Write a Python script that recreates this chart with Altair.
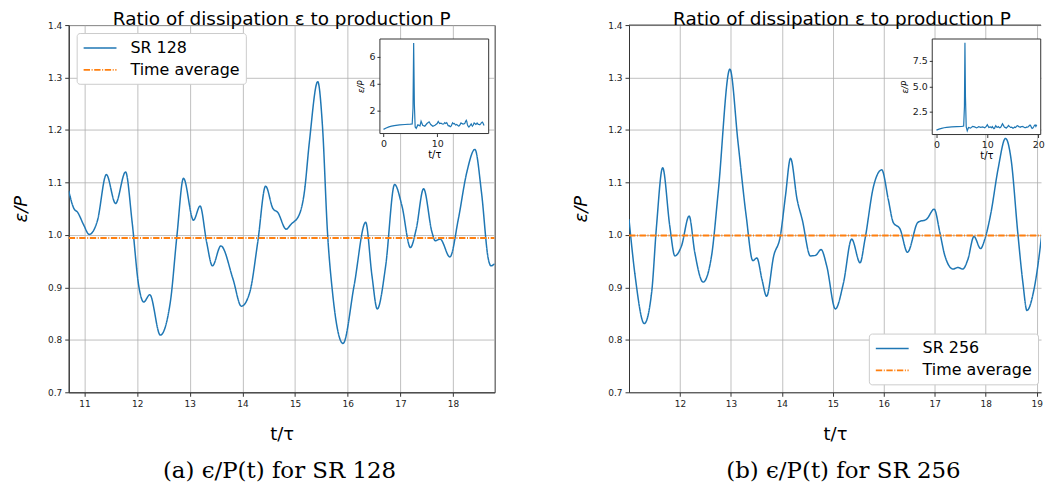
import altair as alt
import pandas as pd

# ---------------- data ----------------
t128 = [10.70, 10.80, 10.87, 10.98, 11.09, 11.245, 11.415, 11.59, 11.78, 11.905,
        12.03, 12.125, 12.24, 12.44, 12.63, 12.755, 12.88, 13.07, 13.195, 13.32,
        13.43, 13.59, 13.82, 13.98, 14.14, 14.29, 14.44, 14.58, 14.67, 14.83,
        14.92, 15.08, 15.175, 15.27, 15.43, 15.52, 15.615, 15.71, 15.91, 16.12,
        16.34, 16.46, 16.56, 16.72, 16.89, 17.03, 17.19, 17.30, 17.44, 17.60,
        17.66, 17.755, 17.94, 18.10, 18.26, 18.415, 18.54, 18.67, 18.72, 18.79]
v128 = [1.084, 1.050, 1.043, 1.020, 1.001, 1.027, 1.115, 1.060, 1.120, 1.024,
        0.903, 0.872, 0.886, 0.809, 0.872, 0.998, 1.108, 1.028, 1.055, 0.986,
        0.941, 0.979, 0.916, 0.864, 0.891, 0.986, 1.093, 1.050, 1.043, 1.011,
        1.020, 1.039, 1.081, 1.176, 1.292, 1.207, 1.005, 0.891, 0.793, 0.903,
        1.024, 0.922, 0.859, 0.941, 1.096, 1.055, 0.976, 1.011, 1.088, 1.005,
        0.989, 0.992, 0.958, 1.030, 1.119, 1.163, 1.081, 0.954, 0.941, 0.945]

t256 = [11.00, 11.12, 11.30, 11.445, 11.54, 11.66, 11.80, 11.90, 12.03, 12.18,
        12.29, 12.455, 12.62, 12.75, 12.98, 13.14, 13.30, 13.43, 13.51, 13.61,
        13.70, 13.84, 13.97, 14.07, 14.17, 14.30, 14.40, 14.56, 14.66, 14.77,
        14.88, 15.05, 15.21, 15.37, 15.535, 15.63, 15.80, 15.96, 16.09, 16.185,
        16.32, 16.465, 16.67, 16.84, 16.99, 17.10, 17.20, 17.36, 17.455, 17.55,
        17.65, 17.77, 17.90, 17.98, 18.105, 18.24, 18.39, 18.50, 18.63, 18.73,
        18.81, 18.95, 19.12, 19.27]
v256 = [1.030, 0.922, 0.831, 0.891, 1.017, 1.128, 1.017, 0.960, 0.979, 1.036,
        0.967, 0.910, 0.960, 1.081, 1.316, 1.176, 1.036, 0.951, 0.956, 0.915,
        0.883, 0.960, 0.998, 1.074, 1.146, 1.067, 1.029, 0.960, 0.961, 0.972,
        0.941, 0.859, 0.909, 0.992, 0.947, 0.991, 1.093, 1.124, 1.067, 1.024,
        1.011, 0.967, 1.024, 1.030, 1.049, 1.005, 0.960, 0.935, 0.938, 0.935,
        0.953, 0.997, 0.974, 0.991, 1.043, 1.124, 1.184, 1.143, 1.004, 0.909,
        0.856, 0.897, 1.017, 1.160]

# early part of the run (inset only)
pre128_t = [0, 0.5, 1.0, 1.5, 2.0, 3.0, 4.0, 5.0, 5.35, 5.5, 5.62, 5.75, 5.9,
            6.1, 6.4, 6.8, 7.0, 7.3, 7.7, 8.1, 8.5, 8.8, 9.2, 9.6, 10.0, 10.2, 10.45]
pre128_v = [0.62, 0.72, 0.80, 0.86, 0.90, 0.95, 0.98, 1.0, 1.02, 2.2, 7.0, 2.5, 0.8,
            0.70, 0.95, 0.88, 1.22, 0.92, 0.85, 1.05, 1.18, 0.98, 0.85, 0.92, 1.05, 1.20, 1.05]
pre256_t = [0, 0.5, 1.0, 1.5, 2.0, 3.0, 4.0, 5.0, 5.35, 5.5, 5.6, 5.7, 5.85, 6.05,
            6.3, 6.7, 7.1, 7.5, 7.9, 8.3, 8.7, 9.1, 9.5, 9.8, 10.0, 10.3, 10.6, 10.85]
pre256_v = [0.68, 0.78, 0.86, 0.92, 0.96, 1.0, 1.03, 1.05, 1.08, 3.0, 9.3, 4.0, 1.0, 0.62,
            0.95, 0.88, 1.05, 1.0, 0.9, 1.02, 0.95, 1.0, 0.92, 1.05, 1.22, 0.95, 1.0, 0.93]
post256_t = [19.4, 19.55, 19.72]
post256_v = [1.20, 1.05, 1.22]

avg128 = 0.994
avg256 = 0.999

yticks = [0.7, 0.8, 0.9, 1.0, 1.1, 1.2, 1.3, 1.4]
xticks128 = [11, 12, 13, 14, 15, 16, 17, 18]
xticks256 = [12, 13, 14, 15, 16, 17, 18, 19]

BLUE = "#1f77b4"
ORANGE = "#ff7f0e"
H = 369


def panel(t, v, avg, name, xdom, width, xticks, it, iv, ixdom, iydom, ixr, iyr,
          iyticks, iyfmt, ixticks, lx, ly, caption, cap_dx, title_dx, left_panel):
    main_df = pd.DataFrame({"t": t, "v": v, "series": name})
    avg_df = pd.DataFrame({"t": xdom, "v": [avg, avg], "series": ["Time average"] * 2})
    leg = alt.Legend(title=None, orient="none", legendX=lx, legendY=ly,
                     symbolType="M-1,0H3.125", symbolSize=256, symbolStrokeWidth=1.6,
                     labelFontSize=16, labelFont="DejaVu Sans", labelColor="#000",
                     fillColor="white", strokeColor="#cccccc", padding=6,
                     cornerRadius=3, rowPadding=5, labelOffset=30)
    color = alt.Color("series:N", scale=alt.Scale(domain=[name, "Time average"],
                                                 range=[BLUE, ORANGE]), legend=leg)
    dash = alt.StrokeDash("series:N", scale=alt.Scale(domain=[name, "Time average"],
                                                      range=[[1, 0], [6.4, 1.6, 1, 1.6]]),
                          legend=leg)
    x = alt.X("t:Q", scale=alt.Scale(domain=xdom, nice=False, zero=False),
              axis=alt.Axis(values=xticks, format="d", title="t/τ", titleFontSize=18,
                            titlePadding=17))
    y = alt.Y("v:Q", scale=alt.Scale(domain=[0.7, 1.4], nice=False, zero=False),
              axis=alt.Axis(values=yticks, format=".1f", title="ε/P", titleFontSize=18,
                            titleFontStyle="italic", titlePadding=17))
    layers = [
        alt.Chart(main_df).mark_line(interpolate="monotone", strokeWidth=1.5, clip=True)
        .encode(x=x, y=y, color=color, strokeDash=dash),
        alt.Chart(avg_df).mark_line(strokeWidth=2, clip=True)
        .encode(x=x, y=y, color=color, strokeDash=dash),
    ]
    if not left_panel:
        top_df = pd.DataFrame({"t": [xdom[0]], "t2": [xdom[1]], "v": [1.4]})
        layers.append(alt.Chart(top_df).mark_rule(color="#333", strokeWidth=1)
                      .encode(x=x, x2="t2:Q", y=y))
    main = alt.layer(*layers)

    ix = alt.Scale(domain=ixdom, range=ixr, nice=False, zero=False)
    iy = alt.Scale(domain=iydom, range=iyr, nice=False, zero=False)
    ixaxis = alt.Axis(orient="bottom", offset=-(H - iyr[0]), values=ixticks, format="d",
                      grid=False, domain=False, tickSize=3, labelFontSize=9.5,
                      labelPadding=2, title="t/τ", titleFontSize=10, titlePadding=2,
                      zindex=2)
    iyaxis = alt.Axis(orient="left", offset=-ixr[0], values=iyticks, format=iyfmt,
                      grid=False, domain=False, tickSize=3, labelFontSize=9.5,
                      labelPadding=2, title="ε/P", titleFontSize=8.5,
                      titleFontStyle="italic", titlePadding=3, zindex=2)
    box_df = pd.DataFrame({"x0": [ixdom[0]], "x1": [ixdom[1]],
                           "y0": [iydom[0]], "y1": [iydom[1]]})
    inset_df = pd.DataFrame({"t": it, "v": iv})
    inset = alt.layer(
        alt.Chart(box_df).mark_rect(fill="white", stroke="#333", strokeWidth=1)
        .encode(x=alt.X("x0:Q", scale=ix, axis=ixaxis), x2="x1:Q",
                y=alt.Y("y0:Q", scale=iy, axis=iyaxis), y2="y1:Q"),
        alt.Chart(inset_df).mark_line(color=BLUE, strokeWidth=1.2)
        .encode(x=alt.X("t:Q", scale=ix, axis=ixaxis),
                y=alt.Y("v:Q", scale=iy, axis=iyaxis)),
    )
    view = alt.ViewBackground(stroke="#333" if left_panel else "transparent", strokeWidth=1)
    p = alt.layer(main, inset).resolve_scale(x="independent", y="independent").properties(
        width=width, height=H, view=view,
        title=alt.TitleParams("Ratio of dissipation ε to production P", fontSize=18.5,
                              fontWeight="normal", font="DejaVu Sans", frame="group",
                              anchor="middle", offset=-7, dx=title_dx, color="#000"))
    return alt.vconcat(p).properties(
        title=alt.TitleParams(caption, orient="bottom", font="DejaVu Serif", fontSize=23,
                              fontWeight="normal", anchor="middle", dx=cap_dx, offset=17,
                              color="#000"))


left = panel(t128, v128, avg128, "SR 128", [10.70, 18.79], 428, xticks128,
             pre128_t + t128, pre128_v + v128, [-0.67, 19.6], [0.31, 7.3],
             [312.7, 422.0], [109.0, 14.0], [2, 4, 6], "d", [0, 10],
             8, 8, "(a) ϵ/P(t) for SR 128", 26, 0, True)
right = panel(t256, v256, avg256, "SR 256", [11.0, 19.086], 414, xticks256,
              pre256_t + t256 + post256_t, pre256_v + v256 + post256_v,
              [-0.83, 20.5], [0.25, 9.66], [304.7, 413.7], [110.0, 14.0],
              [2.5, 5.0, 7.5], ".1f", [0, 10, 20],
              241, 310, "(b) ϵ/P(t) for SR 256", 35, 7, False)

chart = alt.hconcat(left, right, spacing=77).resolve_scale(
    color="independent", strokeDash="independent").resolve_legend(
    color="independent", strokeDash="independent").properties(
    padding={"left": 4, "top": 0, "right": 0, "bottom": 0}
).configure(font="DejaVu Sans").configure_axis(
    labelFont="DejaVu Sans", labelFontSize=9, labelColor="#222", tickColor="#333",
    domainColor="#333", tickSize=4, labelPadding=3, gridColor="#b0b0b0",
    gridWidth=0.8, titleFont="DejaVu Sans", titleFontWeight="normal", titleColor="#000"
)

chart.save("out.html", embed_options={"renderer": "svg", "actions": False})
